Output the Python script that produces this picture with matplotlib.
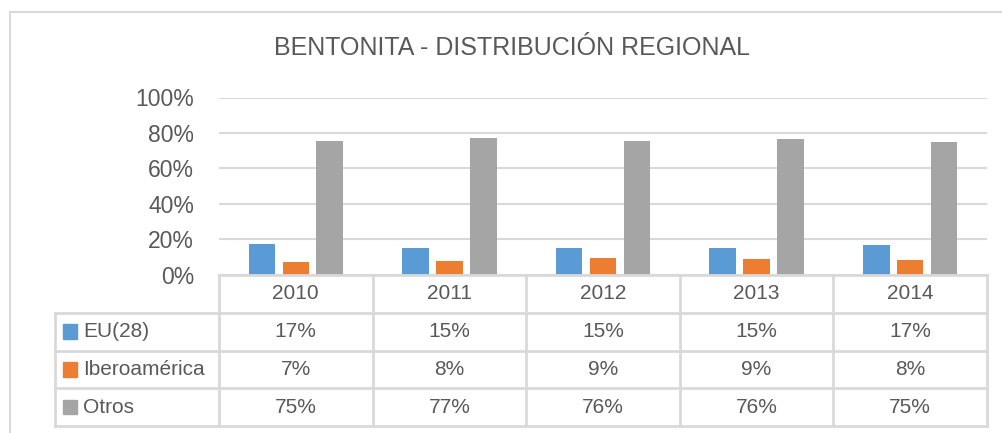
import numpy as np
import matplotlib
matplotlib.use("Agg")
import matplotlib.pyplot as plt
from matplotlib.patches import Rectangle
from matplotlib.lines import Line2D

years = ["2010", "2011", "2012", "2013", "2014"]
series = ["EU(28)", "Iberoamérica", "Otros"]
eu = [17.2, 15.0, 14.8, 14.8, 16.7]
ibero = [7.2, 7.6, 9.3, 8.8, 8.2]
otros = [75.2, 76.9, 75.5, 76.4, 74.8]
table_vals = [[17, 15, 15, 15, 17], [7, 8, 9, 9, 8], [75, 77, 76, 76, 75]]
colors = ["#5B9BD5", "#ED7D31", "#A5A5A5"]

W, H = 1002, 433
TXT = "#595959"
GRID = "#D9D9D9"
plt.rcParams["font.family"] = ["Liberation Sans", "DejaVu Sans"]

fig = plt.figure(figsize=(W / 100, H / 100), dpi=100)

# chart border (only top and left visible in the crop)
fig.lines.append(Line2D([10 / W, 1.0], [1 - 12 / H, 1 - 12 / H],
                        transform=fig.transFigure, color=GRID, lw=1.5))
fig.lines.append(Line2D([10 / W, 10 / W], [1 - 12 / H, 0.0],
                        transform=fig.transFigure, color=GRID, lw=1.5))

fig.text(512 / W, 1 - 48 / H, "BENTONITA - DISTRIBUCIÓN REGIONAL",
         ha="center", va="center", fontsize=18, color=TXT)

# plot area
x0, x1 = 219, 987
y_top, y_bot = 97.5, 274.5
ax = fig.add_axes([x0 / W, 1 - y_bot / H, (x1 - x0) / W, (y_bot - y_top) / H])
x = np.arange(len(years))
bw = 0.173
step = 0.221
for i, vals in enumerate([eu, ibero, otros]):
    ax.bar(x + (i - 1) * step, vals, width=bw, color=colors[i], zorder=3)
ax.set_xlim(-0.5, 4.5)
ax.set_ylim(0, 100)
ax.set_yticks(np.arange(0, 101, 20))
ax.set_yticklabels([f"{v}%" for v in range(0, 101, 20)], fontsize=16.5, color=TXT)
ax.tick_params(axis="y", length=0, pad=18)
ax.set_xticks([])
ax.grid(axis="y", color=GRID, linewidth=1.5, zorder=0)
for s in ax.spines.values():
    s.set_visible(False)

# data table
lab_x = 55
t_top, t_bot = 275, 426
cat_w = (x1 - x0) / 5.0
left_data = -0.5 - (x0 - lab_x) / cat_w
tx = fig.add_axes([lab_x / W, 1 - t_bot / H, (x1 - lab_x) / W, (t_bot - t_top) / H])
tx.set_xlim(left_data, 4.5)
tx.set_ylim(4, 0)
tx.axis("off")
lw = 2
tx.plot([-0.5, 4.5], [0, 0], color=GRID, lw=lw, clip_on=False)
for r in range(1, 5):
    tx.plot([left_data, 4.5], [r, r], color=GRID, lw=lw, clip_on=False)
for c in np.arange(-0.5, 5.0, 1.0):
    tx.plot([c, c], [0, 4], color=GRID, lw=lw, clip_on=False)
tx.plot([left_data, left_data], [1, 4], color=GRID, lw=lw, clip_on=False)

for j, yr in enumerate(years):
    tx.text(j, 0.5, yr, ha="center", va="center", fontsize=15, color=TXT)
key_w = 14 / cat_w
for i, name in enumerate(series):
    kx = left_data + 8 / cat_w
    tx.add_patch(Rectangle((kx, i + 1.5 - 0.19), key_w, 0.38, color=colors[i]))
    tx.text(left_data + 28 / cat_w, i + 1.5, name, ha="left", va="center",
            fontsize=15, color=TXT)
    for j in range(len(years)):
        tx.text(j, i + 1.5, f"{table_vals[i][j]}%", ha="center", va="center",
                fontsize=15, color=TXT)

fig.savefig("out.png", dpi=100)
